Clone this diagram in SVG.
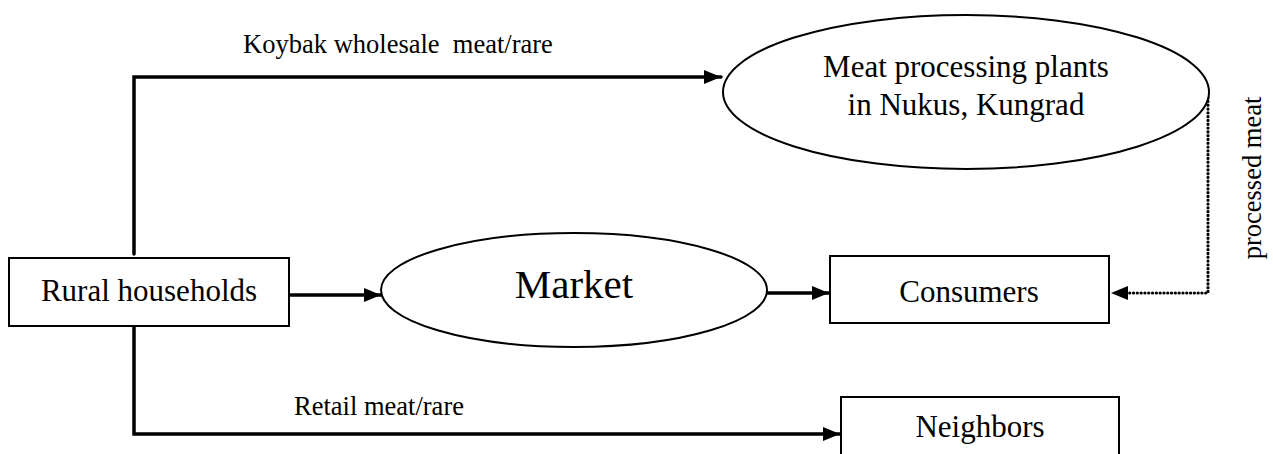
<svg xmlns="http://www.w3.org/2000/svg" width="1273" height="454" viewBox="0 0 1273 454">
<style>
.node{fill:#fff;stroke:#000;stroke-width:2}
.lbl{font-family:"Liberation Serif","Times New Roman",serif;fill:#000}
.big{font-size:31px}
.small{font-size:26.5px}
.conn{fill:none;stroke:#000;stroke-width:3.5;stroke-linecap:round;stroke-linejoin:miter}
.dot{fill:none;stroke:#000;stroke-width:3.2;stroke-linecap:round;stroke-dasharray:0.1 3.7}
</style>
<defs>
<marker id="arr" markerUnits="userSpaceOnUse" markerWidth="18" markerHeight="14" refX="17" refY="7" orient="auto">
<path d="M0,0 L17,7 L0,14 Z" fill="#000"/>
</marker>
</defs>
<rect width="1273" height="454" fill="#fff"/>
<g id="connectors">
<path class="conn" d="M134,254 L134,77 L721,77" marker-end="url(#arr)"/>
<path class="conn" d="M134,323 L134,434 L840,434" marker-end="url(#arr)"/>
<path class="conn" d="M289,295 L381,295" marker-end="url(#arr)"/>
<path class="conn" d="M767,293 L829,293" marker-end="url(#arr)"/>
<path class="dot" d="M1208,90 L1208,293 L1128,293"/>
<path d="M1111,293 L1128,286 L1128,300 Z" fill="#000"/>
<text class="lbl small" x="398" y="53" text-anchor="middle" xml:space="preserve" style="white-space:pre">Koybak wholesale  meat/rare</text>
<text class="lbl small" x="379" y="415" text-anchor="middle">Retail meat/rare</text>
<text class="lbl small" transform="translate(1261,178) rotate(-90)" text-anchor="middle">processed meat</text>
</g>
<g id="rural">
<rect class="node" x="9" y="258" width="280" height="68"/>
<text class="lbl big" x="149" y="301" text-anchor="middle">Rural households</text>
</g>
<g id="market">
<ellipse class="node" cx="574" cy="290" rx="193" ry="57"/>
<text class="lbl" x="574" y="298" text-anchor="middle" font-size="41">Market</text>
</g>
<g id="consumers">
<rect class="node" x="830" y="256" width="279" height="67"/>
<text class="lbl big" x="969" y="302" text-anchor="middle">Consumers</text>
</g>
<g id="plants">
<ellipse class="node" cx="966" cy="92" rx="243" ry="77"/>
<text class="lbl big" x="966" y="77" text-anchor="middle">Meat processing plants</text>
<text class="lbl big" x="966" y="115" text-anchor="middle">in Nukus, Kungrad</text>
</g>
<g id="neighbors">
<rect class="node" x="841" y="397" width="278" height="80"/>
<text class="lbl big" x="980" y="437" text-anchor="middle">Neighbors</text>
</g>
</svg>
